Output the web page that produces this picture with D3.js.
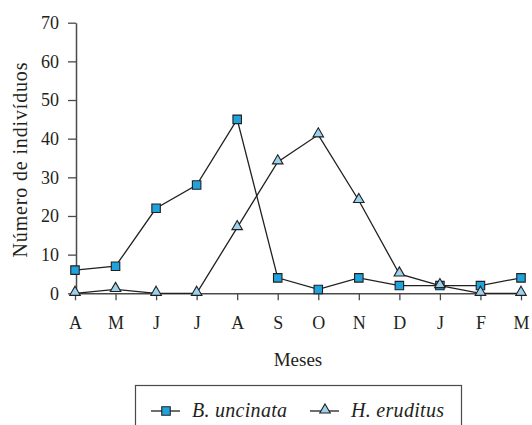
<!DOCTYPE html>
<html>
<head>
<meta charset="utf-8">
<script src="https://cdn.jsdelivr.net/npm/d3@7"></script>
<style>
  html, body { margin: 0; padding: 0; background: #fff; }
</style>
</head>
<body>
<svg id="chart" width="532" height="425"></svg>
<script>
'use strict';

const months     = ['A', 'M', 'J', 'J', 'A', 'S', 'O', 'N', 'D', 'J', 'F', 'M'];
const uncinata   = [6, 7, 22, 28, 45, 4, 1, 4, 2, 2, 2, 4];
const eruditus   = [0, 1, 0, 0, 17, 34, 41, 24, 5, 2, 0, 0];
const yTicks     = [0, 10, 20, 30, 40, 50, 60, 70];
const seriesNames = ['B. uncinata', 'H. eruditus'];

const FONT = "'Liberation Serif', 'Times New Roman', 'DejaVu Serif', serif";

const svg = d3.select('#chart')
  .attr('font-family', FONT);

// escalas
const x = d3.scalePoint().domain(d3.range(months.length)).range([75, 521]);
const y = d3.scaleLinear().domain([0, 70]).range([293.3, 22.7]);

const axisColor = '#4a4a4a';

// eje Y
const gy = svg.append('g')
  .attr('transform', 'translate(76,0)')
  .call(d3.axisLeft(y).tickValues(yTicks).tickSize(8).tickPadding(9).tickSizeOuter(0))
  .attr('font-family', FONT).attr('font-size', 18);
gy.select('.domain').attr('stroke', axisColor).attr('stroke-width', 1.5);
gy.selectAll('.tick line').attr('stroke', axisColor).attr('stroke-width', 1.3);
gy.selectAll('.tick text').attr('fill', '#231f20');

// eje X
const gx = svg.append('g')
  .attr('transform', 'translate(0,293.3)')
  .call(d3.axisBottom(x).tickFormat(i => months[i]).tickSize(7).tickPadding(16).tickSizeOuter(0))
  .attr('font-family', FONT).attr('font-size', 18);
gx.select('.domain').attr('stroke', axisColor).attr('stroke-width', 1.5);
gx.selectAll('.tick line').attr('stroke', axisColor).attr('stroke-width', 1.3);
gx.selectAll('.tick text').attr('fill', '#231f20');

// títulos
svg.append('text')
  .attr('x', 298).attr('y', 366)
  .attr('text-anchor', 'middle')
  .attr('font-size', 19)
  .attr('fill', '#231f20')
  .text('Meses');

svg.append('text')
  .attr('transform', 'translate(27,160)rotate(-90)')
  .attr('text-anchor', 'middle')
  .attr('font-size', 20)
  .attr('textLength', 195)
  .attr('lengthAdjust', 'spacing')
  .attr('fill', '#231f20')
  .text('Número de indivíduos');

// líneas
const line = d3.line().x((d, i) => x(i)).y(d => y(d));
const sq = d3.symbol().type(d3.symbolSquare).size(72);
const tri = d3.symbol().type(d3.symbolTriangle).size(48);

const series = [
  {values: uncinata, sym: sq, fill: '#1fa3dc', dy: 0},
  {values: eruditus, sym: tri, fill: '#9bd3ee', dy: -1}
];

series.forEach(s => {
  svg.append('path')
    .datum(s.values)
    .attr('d', line)
    .attr('fill', 'none')
    .attr('stroke', '#231f20')
    .attr('stroke-width', 1.3);
});

series.forEach(s => {
  svg.append('g').selectAll('path')
    .data(s.values)
    .enter().append('path')
      .attr('d', s.sym)
      .attr('transform', (d, i) => 'translate(' + x(i) + ',' + (y(d) + s.dy) + ')')
      .attr('fill', s.fill)
      .attr('stroke', '#231f20')
      .attr('stroke-width', 1.1);
});

// leyenda
svg.append('rect')
  .attr('x', 135.5).attr('y', 385.5)
  .attr('width', 326).attr('height', 60)
  .attr('fill', 'none')
  .attr('stroke', axisColor)
  .attr('stroke-width', 1.2);

const legendX = [151, 310];
const legendLen = [95, 93];
seriesNames.forEach((name, k) => {
  const g = svg.append('g').attr('transform', 'translate(' + legendX[k] + ',411)');
  g.append('line')
    .attr('x1', 0).attr('x2', 29)
    .attr('stroke', '#231f20').attr('stroke-width', 1.3);
  g.append('path')
    .attr('d', series[k].sym)
    .attr('transform', 'translate(15,' + series[k].dy + ')')
    .attr('fill', series[k].fill)
    .attr('stroke', '#231f20')
    .attr('stroke-width', 1.1);
  g.append('text')
    .attr('x', 41).attr('y', 6)
    .attr('font-size', 20)
    .attr('font-style', 'italic')
    .attr('textLength', legendLen[k])
    .attr('lengthAdjust', 'spacing')
    .attr('fill', '#231f20')
    .text(name);
});
</script>
</body>
</html>
